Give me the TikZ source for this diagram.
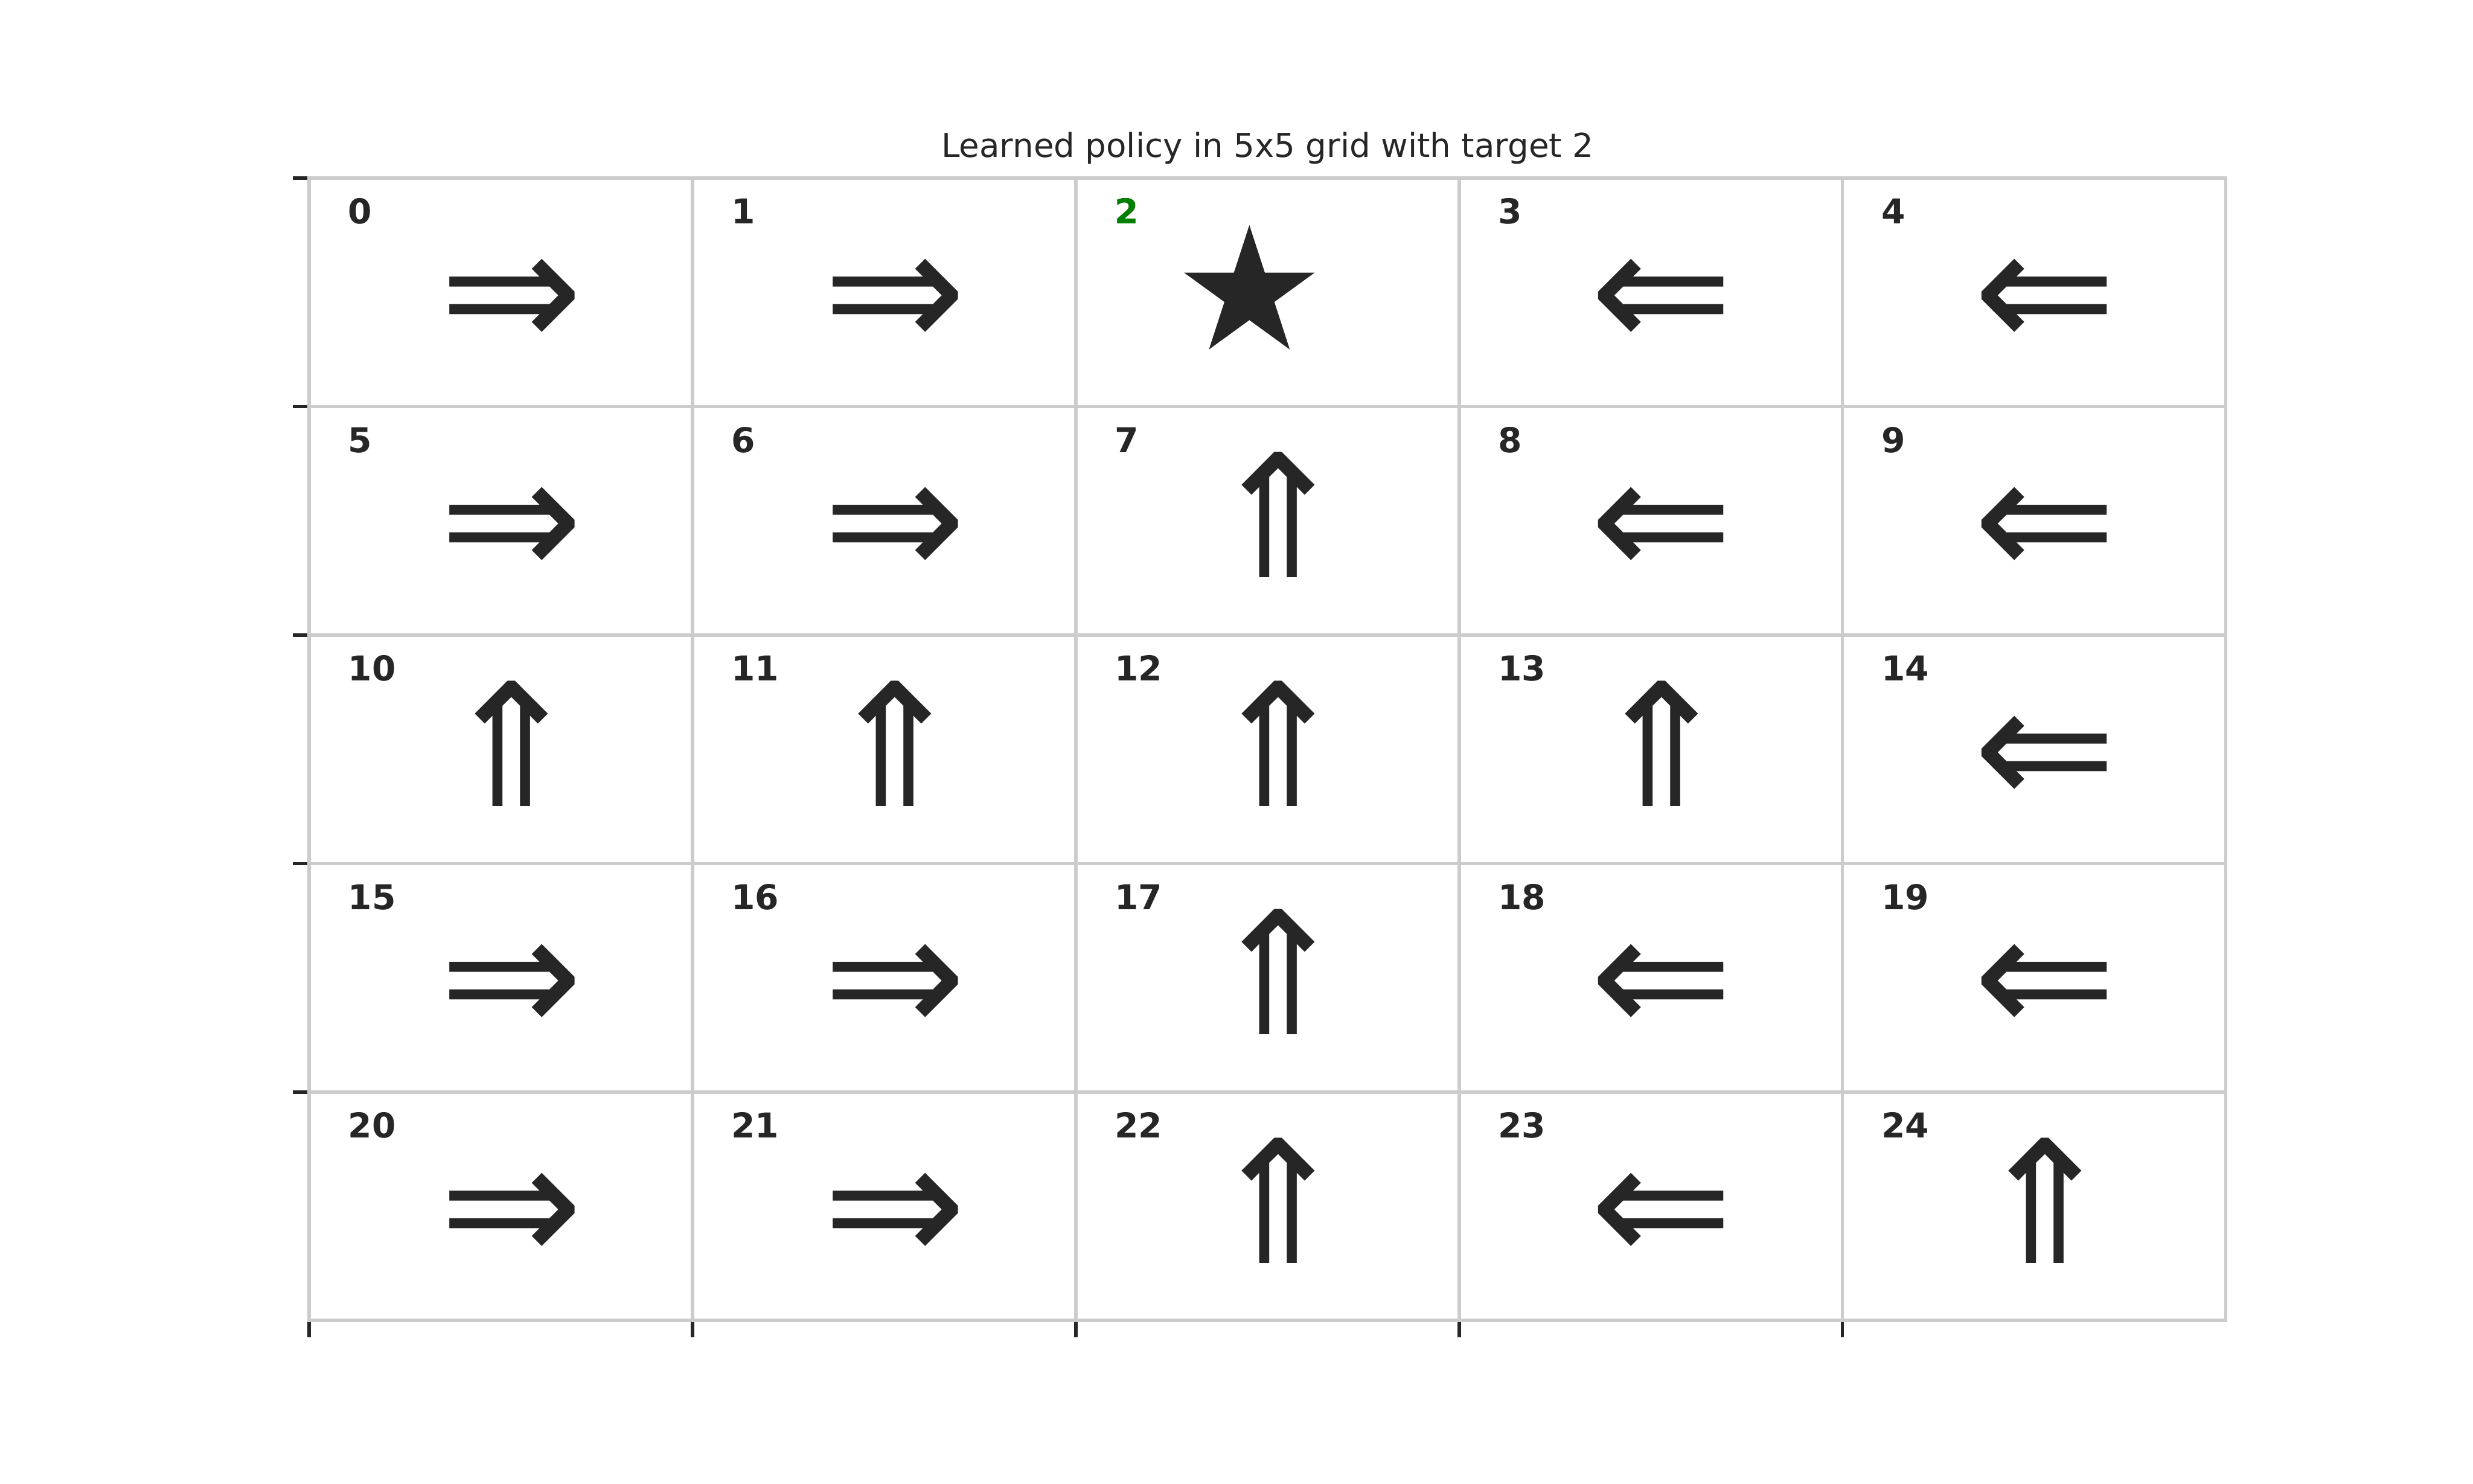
\documentclass[tikz,border=0pt]{standalone}
\usepackage{fontspec}
\setmainfont{DejaVu Sans}
\usetikzlibrary{shapes.geometric}
\definecolor{ink}{HTML}{262626}
\definecolor{gridgray}{HTML}{CCCCCC}
\definecolor{goalgreen}{HTML}{008000}
% Arrow glyphs for the actions
\newcommand{\actR}{⇒}
\newcommand{\actL}{⇐}
\newcommand{\actU}{⇑}

\begin{document}
\begin{tikzpicture}[x=3.937cm, y=-2.34696cm, every node/.style={inner sep=0pt, text=ink},
  cellnum/.style={anchor=base west, font=\fontsize{10}{12}\selectfont\bfseries},
  move/.style={font=\fontsize{50}{60}\selectfont, xshift=0.11cm},
  moveR/.style={move, yshift=-0.12cm}, moveL/.style={move, yshift=-0.12cm}, moveU/.style={move, yshift=0.06cm},
  gridline/.style={draw=gridgray, line width=1pt},
  axtick/.style={draw=ink, line width=1pt}]
        % Fix the page to the figure size
        \useasboundingbox (-0.80645,-0.77922) rectangle (5.64516,5.71428);
        % Define the tick length
        \def\ticklen{0.17cm}

        % Draw the ticks on the left and bottom
        \foreach \i in {0,...,4}
        {
          \draw[axtick] (0,\i) -- ++(-\ticklen,0);
          \draw[axtick] (\i,5) -- ++(0,-\ticklen);
        }

        % Draw the grid lines and the frame
        \foreach \k in {1,...,4}
        {
          \draw[gridline] (\k,0) -- (\k,5);
          \draw[gridline] (0,\k) -- (5,\k);
        }
        \draw[gridline] (0,0) rectangle (5,5);

        % Title
        \node[anchor=base, font=\fontsize{9.65}{12}\selectfont] (title) at (2.5,-0.091) {Learned policy in 5x5 grid with target 2};

        % Number every cell
        \foreach \r in {0,...,4}
        {
          \foreach \c in {0,...,4}
          {
            \pgfmathtruncatemacro{\n}{5*\r+\c}
            \node[cellnum] (n\n) at (\c+0.1,\r+0.2) {\n};
          }
        }
        \node[cellnum, text=goalgreen] (n2) at (2.1,0.2) {2};

        % The goal cell
        \node[star, star points=5, star point ratio=2.618, fill=ink, minimum size=1.412cm] (goal) at (2.4529,0.5067) {};

        % The learned moves
        \foreach \r/\c/\a in {0/0/R, 0/1/R, 0/3/L, 0/4/L,
                              1/0/R, 1/1/R, 1/2/U, 1/3/L, 1/4/L,
                              2/0/U, 2/1/U, 2/2/U, 2/3/U, 2/4/L,
                              3/0/R, 3/1/R, 3/2/U, 3/3/L, 3/4/L,
                              4/0/R, 4/1/R, 4/2/U, 4/3/L, 4/4/U}
        {
          \node[move\a] (a\r\c) at (\c+0.5,\r+0.5) {\csname act\a\endcsname};
        }
      \end{tikzpicture}
\end{document}
